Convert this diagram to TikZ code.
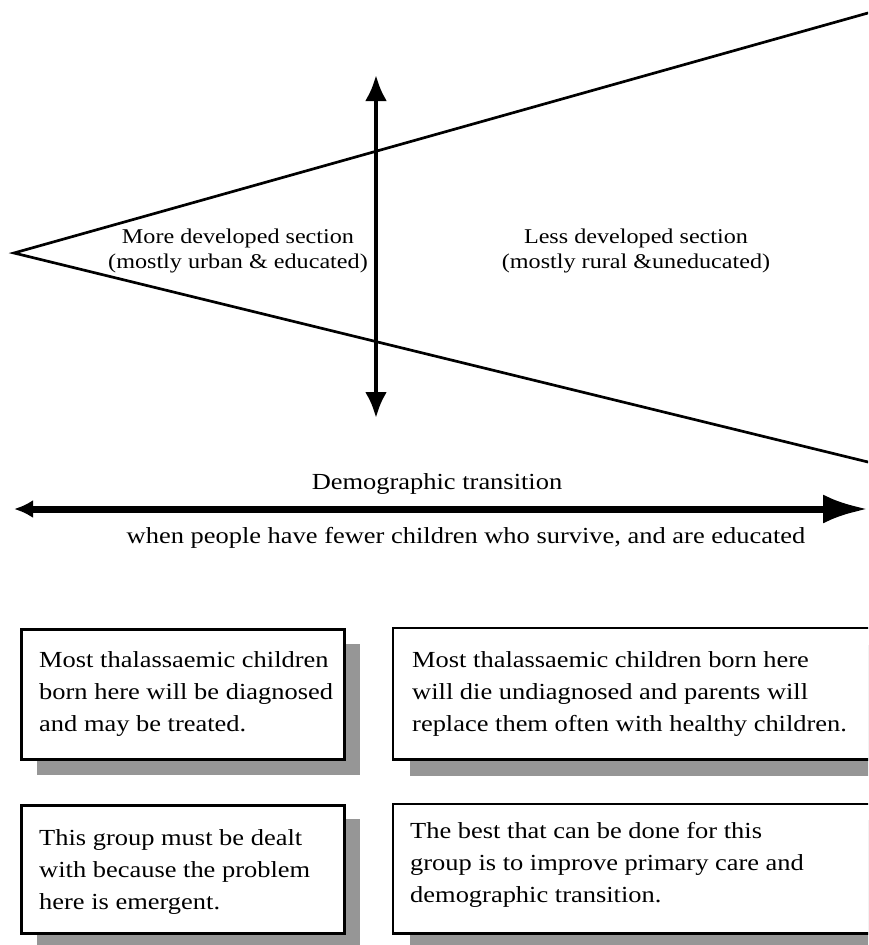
\documentclass[tikz,border=0pt]{standalone}
\usepackage{fontspec}
\setmainfont{Liberation Serif}[FakeStretch=1.15]
\usetikzlibrary{arrows.meta,calc}

\begin{document}
\begin{tikzpicture}[x=1pt,y=-1pt,
  edge/.style={line width=2.7pt, line cap=round},
  lbl/.style={inner sep=0pt, font=\fontsize{21}{26}\selectfont},
  axislbl/.style={inner sep=0pt, font=\fontsize{23}{28}\selectfont},
  boxshape/.style={draw=black, line width=2.6pt, fill=white, anchor=north west,
    inner sep=0pt},
  openbox/.style={fill=white, anchor=north west, inner sep=0pt},
  boxline/.style={draw=black, line width=2.6pt},
  shadowbox/.style={fill=black!41, anchor=north west, inner sep=0pt},
  boxtext/.style={inner sep=0pt, anchor=west, align=left,
    font=\fontsize{23}{32}\selectfont},
]
\useasboundingbox (0,0) rectangle (868,945);
\clip (0,0) rectangle (868,945);

% population wedge
\coordinate (apex) at (14,253);
\coordinate (upper) at (868,13);
\coordinate (lower) at (868,462);
\draw[edge] (upper) -- (apex) -- (lower);

% dividing line between the two sections
\coordinate (vtop) at (376,75);
\coordinate (vbot) at (376,418);
\draw[line width=4.5pt, {Latex[length=26pt,width=22pt]}-{Latex[length=26pt,width=22pt]}]
  (vtop) -- (vbot);

\node[lbl, anchor=base] (more1) at (238,243) {More developed section};
\node[lbl, anchor=base] (more2) at (238,268) {(mostly urban \& educated)};
\node[lbl, anchor=base] (less1) at (636,243) {Less developed section};
\node[lbl, anchor=base] (less2) at (636,268) {(mostly rural \&uneducated)};

% demographic transition axis
\coordinate (hleft) at (14,509);
\coordinate (hright) at (868,509);
\draw[line width=7pt, {Latex[length=19pt,width=18pt]}-{Latex[length=45pt,width=29pt]}]
  (hleft) -- (hright);
\node[axislbl, anchor=base] (demo) at (437,489) {Demographic transition};
\node[axislbl, anchor=base] (when) at (466,543)
  {when people have fewer children who survive, and are educated};

% drop shadows of the text boxes
\node[shadowbox, minimum width=323pt, minimum height=131pt] (s1) at (37,644) {};
\node[shadowbox, minimum width=470pt, minimum height=131pt] (s2) at (410,645) {};
\node[shadowbox, minimum width=323pt, minimum height=131pt] (s3) at (37,819) {};
\node[shadowbox, minimum width=470pt, minimum height=131pt] (s4) at (410,820) {};

% text boxes (the right-hand ones run past the edge)
\node[boxshape, minimum width=323pt, minimum height=130pt] (b1) at (20,628) {};
\node[openbox, minimum width=480pt, minimum height=131pt] (b2) at (393,628) {};
\draw[boxline] (b2.north east) -- (b2.north west) -- (b2.south west) -- (b2.south east);
\node[boxshape, minimum width=323pt, minimum height=128pt] (b3) at (20,804) {};
\node[openbox, minimum width=480pt, minimum height=129pt] (b4) at (393,804) {};
\draw[boxline] (b4.north east) -- (b4.north west) -- (b4.south west) -- (b4.south east);

\node[boxtext] (t1) at ($(b1.west)+(19,0)$)
  {Most thalassaemic children\\born here will be diagnosed\\and may be treated.};
\node[boxtext] (t2) at ($(b2.west)+(19,0)$)
  {Most thalassaemic children born here\\will die undiagnosed and parents will\\replace them often with healthy children.};
\node[boxtext] (t3) at ($(b3.west)+(19,3)$)
  {This group must be dealt\\with because the problem\\here is emergent.};
\node[boxtext] (t4) at ($(b4.west)+(17,-4)$)
  {The best that can be done for this\\group is to improve primary care and\\demographic transition.};
\end{tikzpicture}
\end{document}
